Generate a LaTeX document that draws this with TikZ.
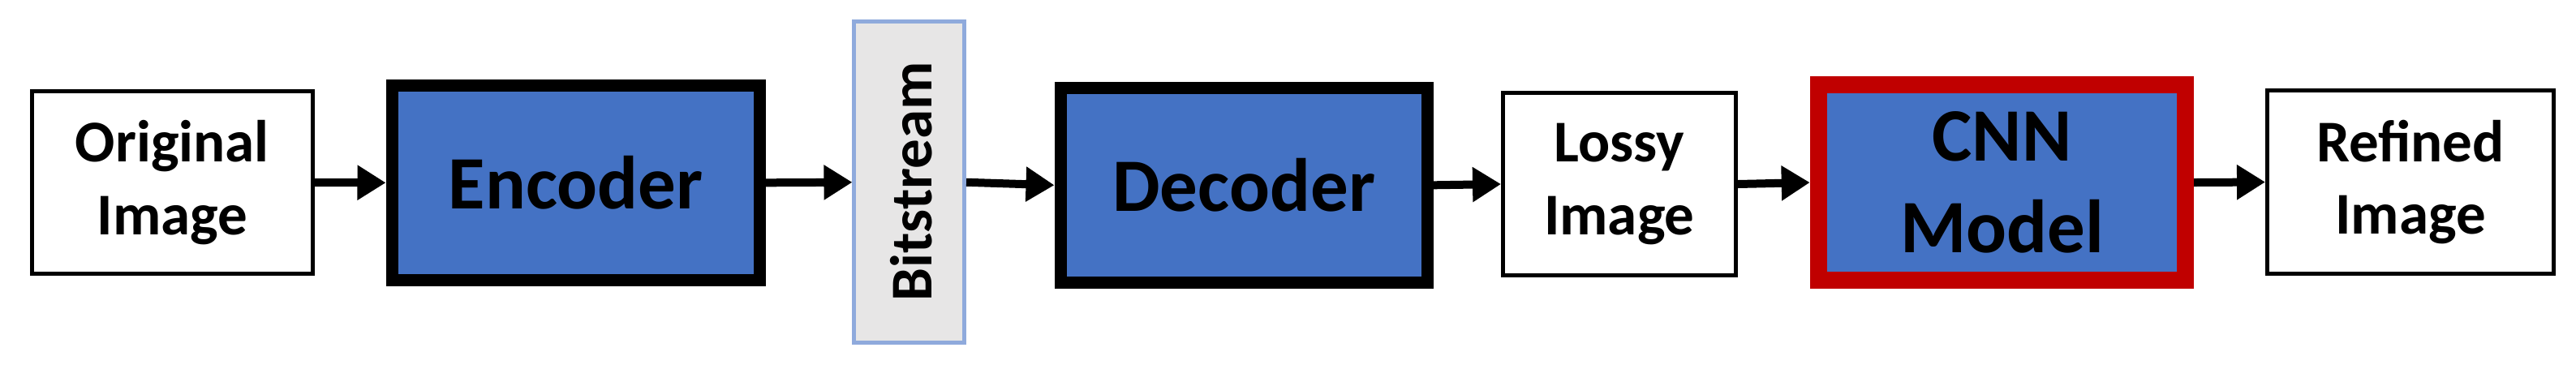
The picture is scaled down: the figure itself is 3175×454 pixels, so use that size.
\documentclass[tikz,border=0pt]{standalone}
\usepackage{fontspec}
\setmainfont{Carlito}
\usetikzlibrary{arrows.meta}
\definecolor{boxblue}{HTML}{4472C4}
\definecolor{boxred}{HTML}{C00000}
\definecolor{bitfill}{HTML}{E7E6E6}
\definecolor{bitline}{HTML}{8FAADC}
\tikzset{
  plainbox/.style={draw=black, fill=white, line width=1.25pt, inner sep=0pt, align=center,
    font=\fontsize{18.25}{22.3}\selectfont\bfseries},
  bluebox/.style={draw=black, fill=boxblue, line width=3.75pt, inner sep=0pt, align=center,
    font=\fontsize{23.25}{28.4}\selectfont\bfseries},
  bitbox/.style={draw=bitline, fill=bitfill, line width=1.25pt, inner sep=0pt},
  flow/.style={line width=2.5pt, -{Triangle[length=8.75pt,width=10.25pt]}},
}
\begin{document}
\begin{tikzpicture}[x=0.25pt,y=-0.25pt]
\useasboundingbox (0,0) rectangle (3175,454);
\node[plainbox, minimum width=86.6pt, minimum height=56.25pt] (orig) at (212.25,225) {Original\\Image};
\node[bluebox, minimum width=113.25pt, minimum height=60.1pt] (enc) at (709.5,225.3) {Encoder};
\node[bitbox, minimum width=33.9pt, minimum height=99.1pt] (bits) at (1120.75,224.75) {};
\node[rotate=90, font=\fontsize{18.25}{22.3}\selectfont\bfseries, inner sep=0pt] (bitstext) at (1123,224) {Bitstream};
\node[bluebox, minimum width=113.1pt, minimum height=60.1pt] (dec) at (1533.2,228.3) {Decoder};
\node[plainbox, minimum width=71.65pt, minimum height=56.25pt] (lossy) at (1995.8,227) {Lossy\\Image};
\node[bluebox, draw=boxred, line width=5.25pt, minimum width=113.1pt, minimum height=60.1pt] (cnn) at (2467.4,225) {CNN\\Model};
\node[plainbox, minimum width=88.2pt, minimum height=56.5pt] (ref) at (2970.9,224.5) {Refined\\Image};
\draw[flow] (orig.east) -- (enc.west);
\draw[flow] (enc.east) -- (bits.west);
\draw[flow] (bits.east) -- (dec.west);
\draw[flow] (dec.east) -- (lossy.west);
\draw[flow] (lossy.east) -- (cnn.west);
\draw[flow] (cnn.east) -- (ref.west);
\end{tikzpicture}
\end{document}
